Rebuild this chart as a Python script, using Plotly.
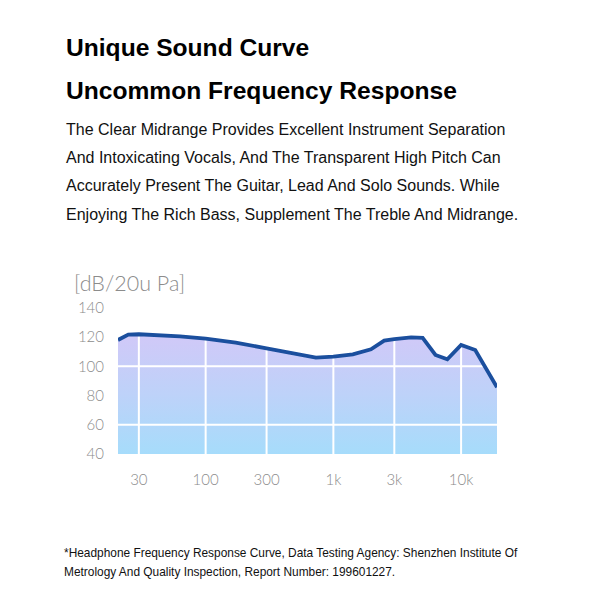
import math
import plotly.graph_objects as go

# ---- data ----
freq_hz = [20.6, 24.8, 30, 63, 100, 172, 300, 480, 730, 1000, 1420, 1970, 2500,
           3000, 4060, 5000, 6300, 7800, 10000, 12900, 19100]
spl_db = [118.0, 121.6, 121.9, 120.5, 118.9, 116.1, 112.3, 108.9, 105.9, 106.6,
          108.2, 111.6, 117.5, 118.6, 119.8, 119.5, 107.7, 104.8, 114.6, 111.1, 85.7]

x_tick_vals = [30, 100, 300, 1000, 3000, 10000]
x_tick_text = ["30", "100", "300", "1k", "3k", "10k"]
y_tick_vals = [40, 60, 80, 100, 120, 140]
y_grid_vals = [60, 100]
x_range_hz = [20.6, 19100]
y_range = [40, 146]

title_lines = ["Unique Sound Curve", "Uncommon Frequency Response"]
body_lines = [
    "The Clear Midrange Provides Excellent Instrument Separation",
    "And Intoxicating Vocals, And The Transparent High Pitch Can",
    "Accurately Present The Guitar, Lead And Solo Sounds. While",
    "Enjoying The Rich Bass, Supplement The Treble And Midrange.",
]
foot_lines = [
    "*Headphone Frequency Response Curve, Data Testing Agency: Shenzhen Institute Of",
    "Metrology And Quality Inspection, Report Number: 199601227.",
]
unit_label = "[dB/20u Pa]"

# ---- layout geometry ----
W, H = 600, 600
ML, MR, MT, MB = 118, 103, 298.9, 145.7
PH = H - MT - MB
PW = W - ML - MR


def py(p):
    return (H - MB - p) / PH


def px(p):
    return (p - ML) / PW


fig = go.Figure()
x_lo, x_hi = x_range_hz
# baseline
fig.add_trace(go.Scatter(x=[x_lo, x_hi], y=[y_range[0], y_range[0]], mode="lines",
                         line=dict(width=0), hoverinfo="skip", showlegend=False))
# fill
fig.add_trace(go.Scatter(x=freq_hz, y=spl_db, mode="lines", line=dict(width=0),
                         fill="tonexty",
                         fillgradient=dict(type="vertical", start=40, stop=120,
                                           colorscale=[[0, "#a6dcfb"], [0.5, "#bdd2f9"], [1, "#d0c9f8"]]),
                         hoverinfo="skip", showlegend=False))
# grid lines as traces (drawn above fill, below curve)
for xv in x_tick_vals:
    fig.add_trace(go.Scatter(x=[xv, xv], y=y_range, mode="lines",
                             line=dict(color="white", width=2), hoverinfo="skip", showlegend=False))
for yv in y_grid_vals:
    fig.add_trace(go.Scatter(x=[x_lo, x_hi], y=[yv, yv], mode="lines",
                             line=dict(color="white", width=2), hoverinfo="skip", showlegend=False))
# curve
fig.add_trace(go.Scatter(x=freq_hz, y=spl_db, mode="lines",
                         line=dict(color="#1b4f9e", width=3.8), showlegend=False))

tick_font = dict(family="Lato, Liberation Sans, sans-serif", size=15, color="#8c8c8c", weight=300)
fig.update_xaxes(type="log", range=[math.log10(x_lo), math.log10(x_hi)],
                 tickvals=x_tick_vals, ticktext=x_tick_text, showgrid=False, zeroline=False,
                 showline=False, ticks="outside", ticklen=12, tickcolor="rgba(0,0,0,0)",
                 tickfont=tick_font)
fig.update_yaxes(range=y_range, tickvals=y_tick_vals, showgrid=False, zeroline=False,
                 showline=False, ticks="outside", ticklen=10, tickcolor="rgba(0,0,0,0)",
                 tickfont=tick_font)

ann = []
for i, t in enumerate(title_lines):
    ann.append(dict(text="<b>" + t + "</b>", x=px(64), y=py([47, 90][i]), xref="paper", yref="paper",
                    xanchor="left", yanchor="middle", showarrow=False,
                    font=dict(family="Liberation Sans, Arial, sans-serif", size=24.6, color="#000")))
for i, t in enumerate(body_lines):
    ann.append(dict(text=t, x=px(64), y=py(128.5 + 28.5 * i), xref="paper", yref="paper",
                    xanchor="left", yanchor="middle", showarrow=False,
                    font=dict(family="Liberation Sans, Arial, sans-serif", size=16, color="#111")))
for i, t in enumerate(foot_lines):
    ann.append(dict(text=t, x=px(62), y=py(554 + 19 * i), xref="paper", yref="paper",
                    xanchor="left", yanchor="middle", showarrow=False,
                    font=dict(family="Liberation Sans, Arial, sans-serif", size=11.9, color="#111")))
ann.append(dict(text=unit_label, x=px(72), y=py(283), xref="paper", yref="paper",
                xanchor="left", yanchor="middle", showarrow=False,
                font=dict(family="Lato, Liberation Sans, sans-serif", size=21.5, color="#8c8c8c", weight=300)))

fig.update_layout(width=W, height=H, margin=dict(l=ML, r=MR, t=MT, b=MB, autoexpand=False),
                  paper_bgcolor="white", plot_bgcolor="white", annotations=ann,
                  showlegend=False)
fig.write_html("out.html")
